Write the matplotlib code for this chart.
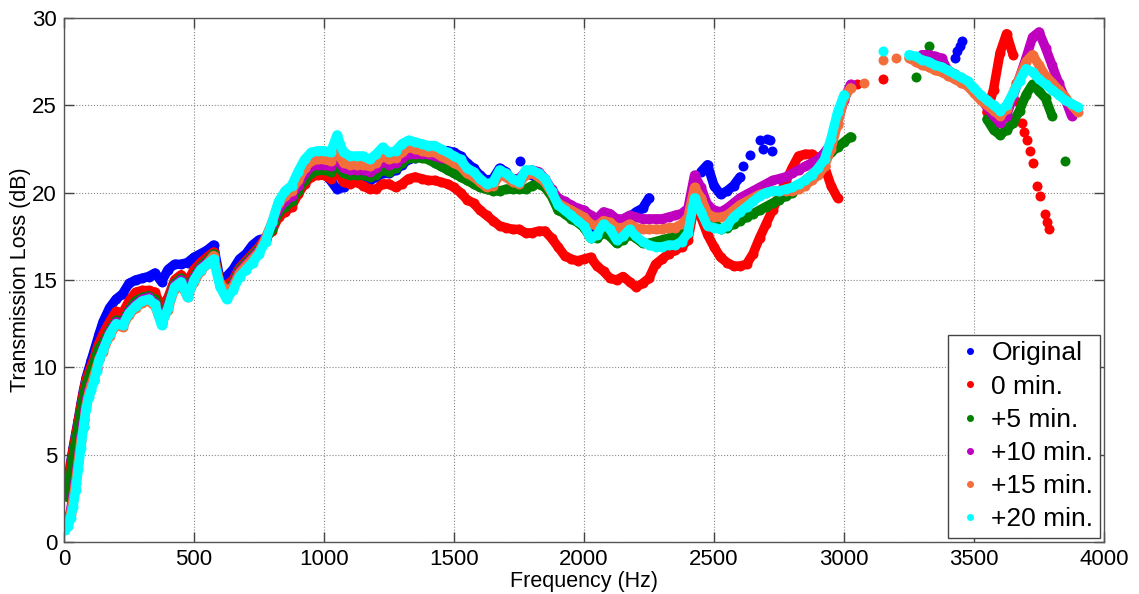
import numpy as np
import matplotlib.pyplot as plt

NA = np.nan

# frecuencias en las que lei las curvas (Hz): 5..135 cada 10, luego 150..3900 cada 25
freq = np.concatenate([np.arange(5, 140, 10), np.arange(150, 3901, 25)])

original = ([NA, 3.3, 4.5, 5.4, 6.2, 7.0, 7.9, 8.7, 9.4, 9.9, 10.4, 10.9, 11.4, 11.9]
            + [12.6, 13.4, 13.9, 14.2, 14.8, 15.0, 15.1, 15.2, 15.4, 14.9, 15.6, 15.9, 15.9, 16.0]
            + [16.3, 16.5, 16.7, 17.0, 15.0, 15.2, 15.6, 16.2, 16.5, 17.0, 17.3, 17.4, 18.0, 18.8, 19.1, 19.4, 20.0, 20.6, 21.0, 21.1]
            + [21.1, 20.7, 20.2, 20.3, 20.8, 20.8, 20.8, 20.7, 20.9, 21.1, 21.1, 21.3, 21.6, 21.9, 22.0, 22.1, 22.2, 22.3, 22.3, 22.4]
            + [22.3, 22.1, 21.7, 21.4, 21.0, 20.7, 20.8, 21.4, 21.2, NA, 20.7, 21.1, 21.0, 20.8, 20.6, 19.9, 19.2, 18.9, 18.8, 18.7]
            + [18.5, 18.0, 17.8, 18.3, 18.0, 17.5, 17.6, 18.6, 18.9, 19.1, 19.7, NA, NA, NA, NA, NA, NA, NA, 21.2, 21.6]
            + [20.4, 19.9, 20.1, 20.4, 20.9, NA, NA, NA, NA, NA, NA, NA, NA, NA, NA, NA, NA, NA, NA, NA]
            + [NA] * 20
            + [NA] * 17)
# puntos sueltos del original
original_dots_f = [1754, 2613, 2638, 2677, 2690, 2703, 2715, 2723, 3425, 3435, 3445, 3452]
original_dots_db = [21.8, 21.5, 22.15, 23.0, 22.5, 23.1, 23.0, 22.4, 27.7, 28.1, 28.4, 28.7]

min0 = ([NA, 3.2, 4.4, 5.3, 6.1, 6.9, 7.8, 8.6, 9.3, 9.7, 10.1, 10.5, 11.0, 11.4]
        + [11.9, 12.6, 13.2, 13.1, 13.8, 14.3, 14.4, 14.4, 14.3, 13.4, 14.0, 15.0, 15.3, 14.9]
        + [15.6, 16.0, 16.3, 16.6, 14.8, 14.7, 15.0, 15.7, 16.1, 16.5, 16.9, 17.4, 17.8, 18.6, 18.9, 19.2, 19.9, 20.5, 20.9, 21.0]
        + [21.0, 20.8, 21.2, 20.6, 20.5, 20.6, 20.4, 20.2, 20.2, 20.5, 20.5, 20.3, 20.5, 20.8, 20.9, 20.8, 20.7, 20.7, 20.6, 20.5]
        + [20.3, 20.0, 19.6, 19.4, 19.0, 18.7, 18.4, 18.1, 18.0, 17.9, 17.9, 17.7, 17.7, 17.8, 17.8, 17.4, 16.9, 16.4, 16.2, 16.1]
        + [16.2, 16.3, 15.8, 15.5, 15.1, 15.0, 15.2, 14.9, 14.6, 14.8, 15.1, 15.9, 16.2, 16.5, 16.7, 16.9, 17.3, 19.3, 18.6, 17.6]
        + [16.9, 16.3, 16.0, 15.8, 15.8, 15.9, 16.5, 17.4, 18.2, 19.0, 19.8, 20.6, 21.4, 22.1, 22.2, 22.2, 22.0, 21.5, 20.4, 19.7]
        + [NA, NA, 26.2, NA, NA, NA, 26.5, NA, NA, NA, NA, NA, NA, NA, NA, NA, NA, NA, NA, NA]
        + [NA, NA, 24.6, 25.9, 28.0, 29.1, 27.9, NA, NA, NA, NA, NA, NA, NA, NA, NA, NA])
# caida punteada del 0 min. despues del pico de 3625 Hz
min0_dots_f = [3662, 3670, 3683, 3692, 3702, 3715, 3725, 3742, 3752, 3772, 3780, 3787]
min0_dots_db = [26.3, 25.2, 24.0, 23.5, 23.0, 22.4, 21.7, 20.4, 19.8, 18.8, 18.3, 17.9]

min5 = ([NA, 2.6, 3.8, 4.9, 5.8, 6.6, 7.5, 8.3, 9.0, 9.4, 9.8, 10.2, 10.7, 11.1]
        + [11.4, 12.1, 12.7, 12.6, 13.3, 13.8, 14.0, 14.1, 13.9, 12.8, 13.6, 14.8, 15.1, 14.3]
        + [15.2, 15.8, 16.1, 16.5, 14.8, 14.4, 14.8, 15.6, 16.0, 16.4, 16.8, 17.3, 17.9, 18.9, 19.2, 19.5, 20.1, 20.7, 21.1, 21.3]
        + [21.3, 21.2, 21.6, 21.1, 21.0, 21.0, 21.0, 20.9, 21.0, 21.3, 21.2, 21.4, 21.7, 22.0, 22.0, 22.0, 21.9, 21.7, 21.5, 21.3]
        + [21.1, 20.9, 20.7, 20.5, 20.3, 20.2, 20.1, 20.1, 20.2, 20.2, 20.2, 20.2, 20.4, 20.5, 20.3, 19.8, 19.0, 18.8, 18.5, 18.3]
        + [18.0, 17.4, 17.4, 17.7, 17.5, 17.1, 17.3, 17.6, 17.4, 17.1, 17.1, 17.2, 17.3, 17.4, 17.5, 17.7, 18.1, 19.6, 19.7, 19.0]
        + [18.3, 17.9, 18.0, 18.2, 18.4, 18.6, 18.8, 19.0, 19.2, 19.4, 19.6, 19.8, 20.0, 20.3, 20.7, 21.0, 21.4, 21.8, 22.3, 22.6]
        + [22.9, 23.2, NA, NA, NA, NA, NA, NA, NA, NA, NA, 26.6, NA, 28.4, NA, NA, NA, NA, NA, NA]
        + [NA, NA, 24.2, 23.6, 23.3, 23.6, 24.0, 24.7, 25.6, 26.2, 25.8, 25.4, 24.4, NA, 21.8, NA, NA])

min10 = ([NA, 1.2, 1.8, 2.7, 3.7, 4.8, 6.0, 7.0, 8.0, 8.7, 9.1, 9.3, 9.9, 10.5]
         + [11.1, 12.0, 12.6, 12.5, 13.2, 13.6, 13.9, 14.0, 13.7, 12.6, 13.5, 14.7, 15.0, 14.2]
         + [15.1, 15.7, 16.0, 16.4, 14.7, 14.3, 14.7, 15.5, 15.9, 16.3, 16.7, 17.4, 18.2, 19.1, 19.5, 19.8, 20.4, 21.1, 21.5, 21.6]
         + [21.6, 21.5, 22.0, 21.4, 21.3, 21.3, 21.3, 21.2, 21.4, 21.8, 21.6, 21.7, 22.0, 22.2, 22.2, 22.2, 22.2, 22.1, 22.0, 21.9]
         + [21.8, 21.6, 21.2, 21.0, 20.7, 20.4, 20.6, 21.1, 21.0, 20.8, 20.8, 21.2, 21.3, 21.2, 20.8, 20.2, 19.7, 19.5, 19.3, 19.1]
         + [19.0, 18.7, 18.5, 18.9, 18.8, 18.5, 18.5, 18.7, 18.6, 18.5, 18.5, 18.5, 18.5, 18.6, 18.7, 18.8, 19.1, 21.0, 20.3, 19.3]
         + [19.0, 18.9, 19.1, 19.4, 19.7, 19.9, 20.1, 20.3, 20.5, 20.7, 20.8, 20.9, 21.1, 21.3, 21.5, 21.7, 21.9, 22.3, 22.8, 24.0]
         + [25.3, 26.2, NA, NA, NA, NA, NA, NA, NA, NA, NA, NA, 27.9, 27.9, 27.8, 27.7, 27.0, 26.8, 26.5, 26.2]
         + [25.8, 25.4, 24.9, 24.4, 24.0, 24.4, 25.5, 26.6, 27.7, 28.9, 29.2, 28.3, 27.3, 26.3, 25.4, 24.4, NA])

min15 = ([NA, 1.1, 1.6, 2.4, 3.4, 4.6, 5.8, 6.6, 7.8, 8.5, 9.0, 9.5, 10.0, 10.5]
         + [10.9, 11.8, 12.4, 12.3, 13.0, 13.4, 13.7, 13.8, 13.5, 12.5, 13.3, 14.5, 14.8, 14.0]
         + [14.9, 15.5, 15.9, 16.4, 14.8, 14.4, 14.6, 15.4, 15.8, 16.2, 16.6, 17.4, 18.3, 19.4, 19.8, 20.1, 20.7, 21.4, 21.8, 21.9]
         + [21.9, 21.8, 22.4, 21.7, 21.6, 21.6, 21.6, 21.5, 21.7, 22.1, 21.9, 22.0, 22.3, 22.6, 22.5, 22.4, 22.3, 22.3, 22.1, 21.9]
         + [21.7, 21.5, 21.1, 20.9, 20.6, 20.3, 20.4, 21.0, 20.9, 20.6, 20.5, 21.0, 21.1, 20.9, 20.6, 20.0, 19.4, 19.2, 19.0, 18.8]
         + [18.6, 18.2, 18.1, 18.4, 18.3, 18.0, 18.0, 18.2, 18.0, 17.9, 17.9, 17.9, 17.9, 18.0, 18.0, 18.2, 18.6, 20.3, 19.7, 18.8]
         + [18.6, 18.6, 18.7, 19.0, 19.3, 19.5, 19.7, 19.9, 20.0, 20.1, 20.1, 20.1, 20.1, 20.2, 20.4, 20.7, 21.0, 21.5, 22.5, 23.9]
         + [25.4, 26.0, NA, 26.3, NA, NA, 27.6, NA, 27.7, NA, 27.7, 27.5, 27.3, 27.2, 27.0, 26.9, 26.7, 26.5, 26.3, 26.1]
         + [25.7, 25.3, 25.0, 24.7, 24.4, 24.8, 25.7, 26.6, 27.5, 27.9, 27.3, 26.7, 26.3, 25.9, 25.5, 25.0, 24.6])

min20 = ([0.7, 0.9, 1.4, 2.0, 3.0, 4.2, 5.4, 6.6, 7.6, 8.3, 8.7, 9.2, 9.8, 10.4]
         + [11.0, 11.9, 12.5, 12.4, 13.1, 13.5, 13.8, 13.9, 13.6, 12.4, 13.4, 14.6, 14.9, 14.0]
         + [15.0, 15.6, 15.9, 16.2, 14.6, 13.9, 14.4, 15.2, 15.6, 16.0, 16.5, 17.2, 18.3, 19.5, 20.1, 20.4, 21.2, 21.9, 22.3, 22.4]
         + [22.4, 22.3, 23.3, 22.3, 22.1, 22.1, 22.1, 21.9, 22.2, 22.6, 22.3, 22.4, 22.8, 23.0, 22.9, 22.8, 22.7, 22.7, 22.5, 22.3]
         + [22.1, 21.9, 21.4, 21.2, 20.8, 20.5, 20.6, 21.3, 21.1, 20.8, 20.6, 21.3, 21.3, 21.1, 20.8, 20.1, 19.3, 19.0, 18.7, 18.4]
         + [18.1, 17.4, 17.6, 18.2, 17.9, 17.3, 17.5, 17.9, 17.5, 17.2, 17.0, 16.9, 16.9, 17.0, 17.0, 17.2, 17.7, 19.7, 18.9, 18.1]
         + [18.0, 17.9, 18.1, 18.6, 18.9, 19.2, 19.5, 19.8, 20.0, 20.1, 20.1, 20.2, 20.3, 20.5, 20.7, 21.0, 21.4, 21.9, 23.1, 24.6]
         + [25.6, NA, NA, NA, NA, NA, 28.1, NA, NA, NA, 27.9, 27.8, 27.6, 27.5, 27.3, 27.2, 27.0, 26.8, 26.6, 26.4]
         + [26.0, 25.6, 25.3, 25.0, 24.7, 25.0, 25.7, 26.4, 27.1, 26.9, 26.5, 26.2, 25.9, 25.6, 25.3, 25.1, 24.9])

labels = ['Original', '0 min.', '+5 min.', '+10 min.', '+15 min.', '+20 min.']
colors = ['#0000FF', '#FF0000', '#008000', '#BF00BF', '#F46E3C', '#00FFFF']
series = [original, min0, min5, min10, min15, min20]
extra = [(original_dots_f, original_dots_db), (min0_dots_f, min0_dots_db),
         ([], []), ([], []), ([], []), ([], [])]

plt.rcParams['font.family'] = ['Liberation Sans', 'DejaVu Sans']

fig = plt.figure(figsize=(11.39, 5.94), dpi=100)
ax = fig.add_axes([64 / 1139, 52 / 594, 1040 / 1139, 524 / 594])

# cada medida se dibuja como banda gruesa (los puntos del original son muy densos)
for vals, (df, ddb), lab, col in zip(series, extra, labels, colors):
    ax.plot(freq, vals, linestyle='-', linewidth=6.8, color=col,
            solid_capstyle='round', solid_joinstyle='round')
    ax.plot(freq, vals, linestyle='none', marker='o', markersize=7.2,
            markeredgewidth=0, color=col, label=lab)
    ax.plot(df, ddb, linestyle='none', marker='o', markersize=7.2,
            markeredgewidth=0, color=col)

ax.set_xlim(0, 4000)
ax.set_ylim(0, 30)
ax.set_xticks(range(0, 4001, 500))
ax.set_yticks(range(0, 31, 5))
ax.grid(True, linestyle=':', color='#888888', linewidth=0.8)
ax.tick_params(direction='in', top=True, right=True, length=7, width=1,
               labelsize=16, color='#444444', pad=5)
for s in ax.spines.values():
    s.set_color('#555555')
    s.set_linewidth(1)

ax.set_xlabel('Frequency (Hz)', fontsize=15.5, labelpad=1)
ax.set_ylabel('Transmission Loss (dB)', fontsize=15.5, labelpad=1)

leg = ax.legend(loc='lower right', fontsize=19, markerscale=0.7, frameon=True,
                fancybox=False, borderaxespad=0.15, handletextpad=0.2,
                labelspacing=0.35, borderpad=0.25, handlelength=1.2)
leg.get_frame().set_edgecolor('#444444')
leg.get_frame().set_linewidth(1)
leg.get_frame().set_alpha(1)

fig.savefig('out.png', dpi=100)
